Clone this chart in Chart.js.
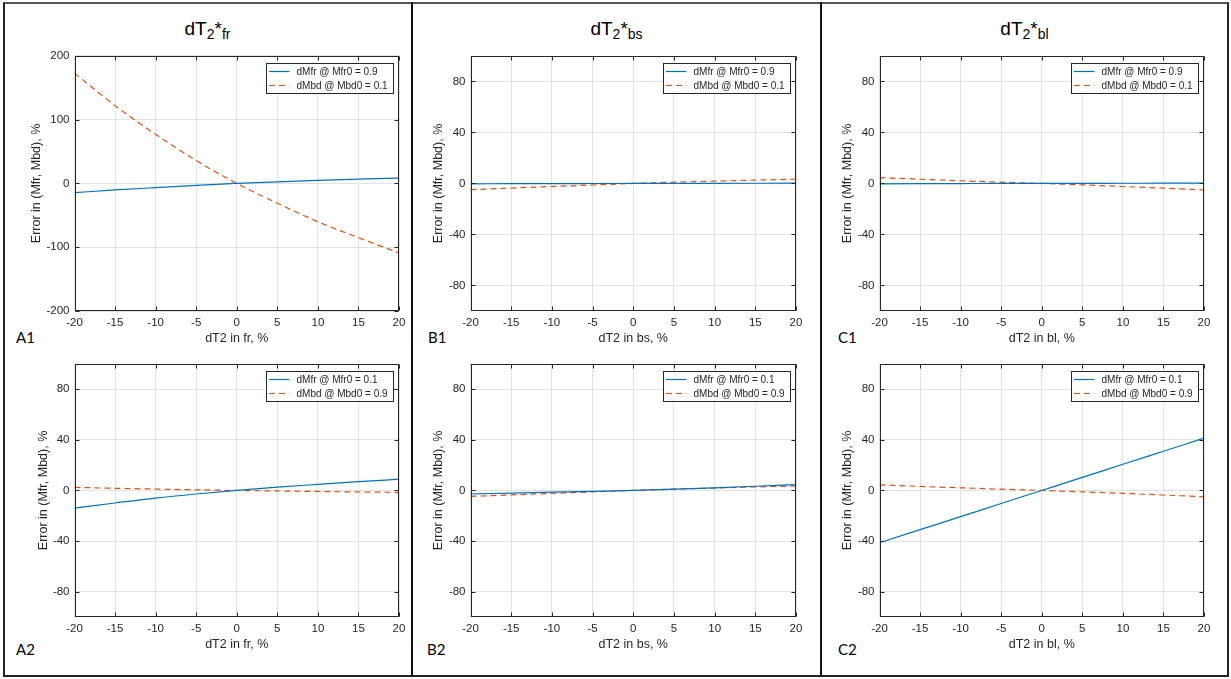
<!DOCTYPE html>
<html>
<head>
<meta charset="utf-8">
<script src="https://cdn.jsdelivr.net/npm/chart.js@4.4.0/dist/chart.umd.min.js"></script>
<style>
  body { margin:0; background:#fff; }
  #fig { position:relative; width:1231px; height:679px; overflow:hidden; background:#fff; font-family:"Liberation Sans", Arial, sans-serif; }
  .frame { position:absolute; left:3px; top:2px; width:1226px; height:675px; box-sizing:border-box; border:2px solid #222; border-top-color:#555; }
  .sep { position:absolute; top:2px; width:2px; height:675px; background:#111; }
  .ttl { position:absolute; top:19px; height:24px; text-align:center; font-size:19px; line-height:19px; color:#000; white-space:nowrap; }
  .ttl .sb { font-size:14px; position:relative; top:4px; }
  .lbl { position:absolute; font-family:Lato, "Open Sans", sans-serif; font-size:15px; line-height:15px; color:#000; }
  canvas { position:absolute; }
</style>
</head>
<body>
<div id="fig">
  <div class="frame"></div>
  <div class="sep" style="left:411px"></div>
  <div class="sep" style="left:820px"></div>
  <div class="ttl" style="left:3px;width:409px">dT<span class="sb">2</span>*<span class="sb">fr</span></div>
  <div class="ttl" style="left:412px;width:409px">dT<span class="sb">2</span>*<span class="sb">bs</span></div>
  <div class="ttl" style="left:821px;width:407px">dT<span class="sb">2</span>*<span class="sb">bl</span></div>
  <div class="lbl" style="left:16px;top:330px">A1</div>
  <div class="lbl" style="left:16px;top:642px">A2</div>
  <div class="lbl" style="left:428px;top:330px">B1</div>
  <div class="lbl" style="left:427px;top:642px">B2</div>
  <div class="lbl" style="left:838px;top:330px">C1</div>
  <div class="lbl" style="left:838px;top:642px">C2</div>
  <canvas id="cA1"></canvas>
  <canvas id="cB1"></canvas>
  <canvas id="cC1"></canvas>
  <canvas id="cA2"></canvas>
  <canvas id="cB2"></canvas>
  <canvas id="cC2"></canvas>
</div>
<script>
// x values: dT2 change, %
const dT2 = [-20, -15, -10, -5, 0, 5, 10, 15, 20];

// error in Mfr / Mbd, %
const a1Mfr = [-14.5, -10.2, -6.5, -3.0, 0, 2.6, 4.8, 6.8, 8.5];
const a1Mbd = [173, 122, 77, 36, 0, -31, -60, -85, -109];
const a2Mfr = [-14.0, -9.9, -6.0, -2.8, 0, 2.6, 4.8, 6.9, 8.9];
const a2Mbd = [2.4, 1.7, 1.1, 0.5, 0, -0.4, -0.8, -1.2, -1.5];
const b1Mfr = [-0.3, -0.2, -0.1, -0.05, 0, 0.05, 0.1, 0.15, 0.2];
const b1Mbd = [-4.9, -3.6, -2.4, -1.2, 0, 1.0, 1.8, 2.6, 3.3];
const b2Mfr = [-2.8, -2.1, -1.4, -0.7, 0, 1.0, 2.1, 3.3, 4.6];
const b2Mbd = [-4.7, -3.5, -2.3, -1.1, 0, 1.0, 1.9, 2.8, 3.6];
const c1Mfr = [-0.3, -0.2, -0.1, 0, 0, 0.1, 0.15, 0.2, 0.3];
const c1Mbd = [4.5, 3.3, 2.1, 1.0, 0, -1.1, -2.4, -3.7, -5.1];
const c2Mfr = [-41.3, -31.0, -20.7, -10.3, 0, 10.3, 20.7, 31.0, 41.3];
const c2Mbd = [4.4, 3.2, 2.1, 1.0, 0, -1.1, -2.3, -3.6, -5.0];

const yTicksWide = [-200, -100, 0, 100, 200];
const yTicks = [-80, -40, 0, 40, 80];
const legendTop = ['dMfr @ Mfr0 = 0.9', 'dMbd @ Mbd0 = 0.1'];
const legendBottom = ['dMfr @ Mfr0 = 0.1', 'dMbd @ Mbd0 = 0.9'];
const xTitles = ['dT2 in fr, %', 'dT2 in bs, %', 'dT2 in bl, %'];
const yTitle = 'Error in (Mfr, Mbd), %';

const INK = '#262626';
const BLUE = '#0072BD';
const ORANGE = '#D95319';
const FAMILY = '"Liberation Sans", Arial, sans-serif';
const tickFont = { family: FAMILY, size: 11.5 };
const titleFont = { family: FAMILY, size: 12.5, lineHeight: 1.2 };

// box + inner ticks + legend drawn like the original figure
const matlabBox = {
  id: 'matlabBox',
  afterDatasetsDraw(chart) {
    const { ctx, chartArea: a, scales } = chart;
    const L = Math.round(a.left) + 0.5, R = Math.round(a.right) - 0.5;
    const T = Math.round(a.top) + 0.5, B = Math.round(a.bottom) - 0.5;
    ctx.save();
    ctx.strokeStyle = INK;
    ctx.lineWidth = 1;
    ctx.setLineDash([]);
    ctx.strokeRect(L, T, R - L, B - T);
    ctx.beginPath();
    scales.x.ticks.forEach(t => {
      const x = Math.round(scales.x.getPixelForValue(t.value)) + 0.5;
      ctx.moveTo(x, B); ctx.lineTo(x, B - 4);
      ctx.moveTo(x, T); ctx.lineTo(x, T + 4);
    });
    scales.y.ticks.forEach(t => {
      const y = Math.round(scales.y.getPixelForValue(t.value)) + 0.5;
      ctx.moveTo(L, y); ctx.lineTo(L + 4, y);
      ctx.moveTo(R, y); ctx.lineTo(R - 4, y);
    });
    ctx.stroke();

    // legend
    ctx.font = '10px ' + FAMILY;
    const sets = chart.data.datasets;
    const tw = Math.max(...sets.map(d => ctx.measureText(d.label).width));
    const w = Math.round(2.5 + 20.5 + 7 + tw + 6), h = 30;
    const x0 = Math.round(R - 6 - w) + 0.5, y0 = Math.round(T + 6) + 0.5;
    ctx.fillStyle = '#fff';
    ctx.fillRect(x0, y0, w, h);
    ctx.strokeStyle = INK;
    ctx.strokeRect(x0, y0, w, h);
    sets.forEach((d, i) => {
      const cy = y0 + 8 + i * 14;
      ctx.beginPath();
      ctx.strokeStyle = d.borderColor;
      ctx.lineWidth = 1.2;
      ctx.setLineDash(d.borderDash || []);
      ctx.moveTo(x0 + 2.5, cy); ctx.lineTo(x0 + 23, cy);
      ctx.stroke();
      ctx.setLineDash([]);
      ctx.fillStyle = INK;
      ctx.textBaseline = 'middle';
      ctx.textAlign = 'left';
      ctx.fillText(d.label, x0 + 30, cy + 0.5);
    });
    ctx.restore();
  }
};

function pts(ys) { return dT2.map((x, i) => ({ x, y: ys[i] })); }

function panel(id, mfr, mbd, names, xTitle, yT, box) {
  const half = titleFont.size * 1.2 / 2;
  const W = box.plotLeft - (box.yTitleX - 3 - half);
  const TOP = 10, RIGHT = 14, H = 36;
  const cv = document.getElementById(id);
  cv.style.left = (box.plotLeft - W) + 'px';
  cv.style.top = (box.plotTop - TOP) + 'px';
  cv.width = Math.round(W + box.plotW + RIGHT);
  cv.height = Math.round(TOP + box.plotH + H);
  const step = yT[1] - yT[0];
  const pad = yT[0] === -200 ? 0 : step / 2;
  new Chart(cv, {
    type: 'line',
    data: {
      datasets: [
        { label: names[0], data: pts(mfr), borderColor: BLUE, borderWidth: 1.2, pointRadius: 0, cubicInterpolationMode: 'monotone' },
        { label: names[1], data: pts(mbd), borderColor: ORANGE, borderWidth: 1.2, borderDash: [6, 4], pointRadius: 0, cubicInterpolationMode: 'monotone' }
      ]
    },
    options: {
      responsive: false,
      animation: false,
      devicePixelRatio: 1,
      layout: { padding: { left: 0, top: TOP, right: RIGHT, bottom: 0 } },
      plugins: { legend: { display: false }, tooltip: { enabled: false } },
      scales: {
        x: {
          type: 'linear', min: -20, max: 20,
          ticks: { stepSize: 5, color: INK, font: tickFont, padding: 5, maxRotation: 0 },
          grid: { color: '#e2e2e2', drawTicks: false },
          border: { display: false },
          title: { display: true, text: xTitle, color: INK, font: titleFont, padding: { top: 0, bottom: 1 } },
          afterFit(s) { s.height = H; }
        },
        y: {
          min: yT[0] - pad,
          max: yT[yT.length - 1] + pad,
          afterBuildTicks(s) { s.ticks = yT.map(v => ({ value: v })); },
          ticks: { color: INK, font: tickFont, padding: 5 },
          grid: { color: '#e2e2e2', drawTicks: false },
          border: { display: false },
          title: { display: true, text: yTitle, color: INK, font: titleFont, padding: { top: 3, bottom: 0 } },
          afterFit(s) { s.width = W; }
        }
      }
    },
    plugins: [matlabBox]
  });
}

panel('cA1', a1Mfr, a1Mbd, legendTop, xTitles[0], yTicksWide, { plotLeft: 74, plotTop: 54, plotW: 324, plotH: 257, yTitleX: 36 });
panel('cB1', b1Mfr, b1Mbd, legendTop, xTitles[1], yTicks, { plotLeft: 470, plotTop: 54, plotW: 325, plotH: 257, yTitleX: 438 });
panel('cC1', c1Mfr, c1Mbd, legendTop, xTitles[2], yTicks, { plotLeft: 879, plotTop: 54, plotW: 324, plotH: 257, yTitleX: 847 });
panel('cA2', a2Mfr, a2Mbd, legendBottom, xTitles[0], yTicks, { plotLeft: 74, plotTop: 362, plotW: 324, plotH: 255, yTitleX: 43 });
panel('cB2', b2Mfr, b2Mbd, legendBottom, xTitles[1], yTicks, { plotLeft: 470, plotTop: 362, plotW: 325, plotH: 255, yTitleX: 438 });
panel('cC2', c2Mfr, c2Mbd, legendBottom, xTitles[2], yTicks, { plotLeft: 879, plotTop: 362, plotW: 324, plotH: 255, yTitleX: 847 });
</script>
</body>
</html>
